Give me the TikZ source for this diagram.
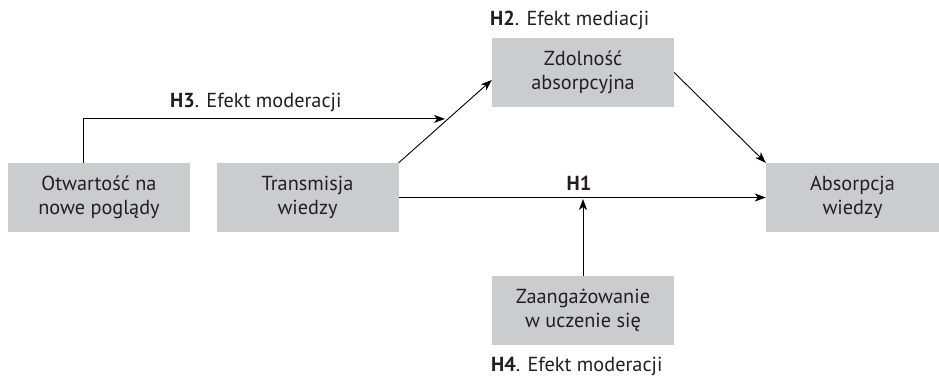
\documentclass[tikz,border=0pt]{standalone}
\usepackage{fontspec}
\setmainfont{PT Sans}
\usetikzlibrary{arrows.meta}
\definecolor{boxgray}{HTML}{CBCCCD}
\definecolor{inkgray}{HTML}{231F20}
\begin{document}
\begin{tikzpicture}[x=1pt,y=-1pt,
  varbox/.style={fill=boxgray, draw=none, inner sep=0pt, minimum width=182pt,
    minimum height=69pt, align=center, text=inkgray,
    font=\fontsize{20.3}{23.5}\selectfont},
  hyplabel/.style={inner sep=0pt, text=inkgray, font=\fontsize{20.3}{24}\selectfont},
  link/.style={draw=black, line width=0.9pt, -{Stealth[length=11pt,width=8pt,inset=3pt]}}
]
\useasboundingbox (0,0) rectangle (939,379);

% variables
\node[varbox] (otw) at (99,197.5) {Otwartość na\\nowe poglądy};
\node[varbox] (trans) at (307.5,197.5) {Transmisja\\wiedzy};
\node[varbox] (zdol) at (583,72.5) {Zdolność\\absorpcyjna};
\node[varbox, minimum width=173pt] (abs) at (852.5,197.5) {Absorpcja\\wiedzy};
\node[varbox] (zaang) at (583,310.5) {Zaangażowanie\\w uczenie się};

% hypothesis labels
\node[hyplabel, anchor=west] (h2) at (490,20) {\textbf{H2}. Efekt mediacji};
\node[hyplabel, anchor=west] (h3) at (170,102) {\textbf{H3}. Efekt moderacji};
\node[hyplabel] (h1) at (579,183) {\textbf{H1}};
\node[hyplabel, anchor=west] (h4) at (491,366) {\textbf{H4}. Efekt moderacji};

% connectors
\coordinate (zin) at ([yshift=-7.5pt]zdol.west);
\draw[link] (trans.north east) -- coordinate[pos=0.53] (mid) (zin);
\draw[link] (zdol.east) -- (abs.north west);
\draw[link] (trans.east) -- (abs.west);
\coordinate (h1hit) at (zaang.north |- trans.east);
\draw[link, shorten >=1.5pt] (zaang.north) -- (h1hit);
\coordinate (otwtop) at ([xshift=-16pt]otw.north);
\draw[link, shorten >=3pt] (otwtop) |- (mid);
\end{tikzpicture}
\end{document}
